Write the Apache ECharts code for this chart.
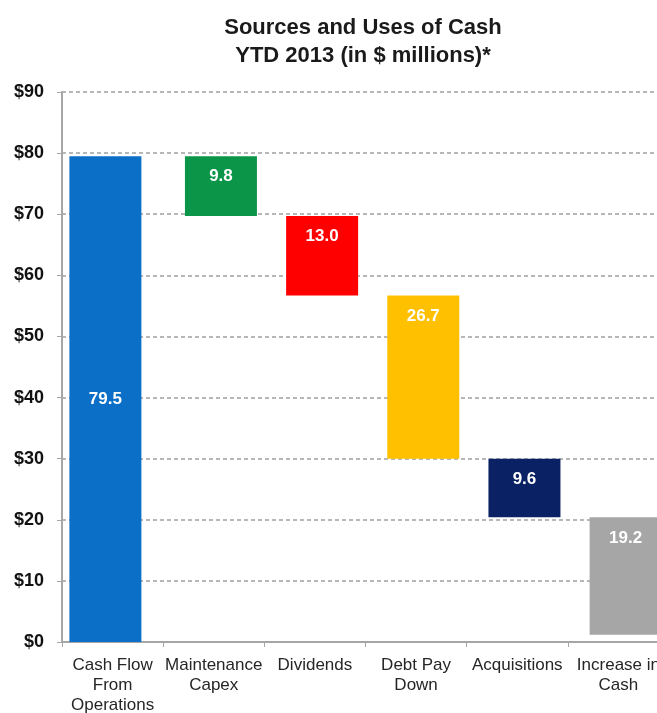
<!DOCTYPE html>
<html>
<head>
<meta charset="utf-8">
<script src="https://cdn.jsdelivr.net/npm/echarts@6/dist/echarts.min.js"></script>
<style>
  html, body { margin: 0; padding: 0; background: #ffffff; }
  #chart { width: 657px; height: 713px; }
</style>
</head>
<body>
<div id="chart"></div>
<script>
// Waterfall of cash sources and uses, YTD 2013 ($ millions)
const categories = ['Cash Flow\nFrom\nOperations', 'Maintenance\nCapex', 'Dividends', 'Debt Pay\nDown', 'Acquisitions', 'Increase in\nCash'];
const sourceValue = 79.5;                      // Cash Flow From Operations
const useValues = [9.8, 13.0, 26.7, 9.6, 19.2]; // remaining categories
const useColors = ['#0B9548', '#FF0000', '#FFC000', '#0A2164', '#A6A6A6'];
const yTicks = { min: 0, max: 90, step: 10 };

// Floating bars: each use hangs down from the running level left by the previous one
const baseData = ['-'];
const useData = ['-'];
let level = sourceValue;
useValues.forEach(function (v, i) {
  level = +(level - v).toFixed(1);
  baseData.push(level);
  useData.push({ value: v, itemStyle: { color: useColors[i] } });
});
const sourceData = [sourceValue, '-', '-', '-', '-', '-'];

const chart = echarts.init(document.getElementById('chart'), null, { renderer: 'canvas' });
chart.setOption({
  backgroundColor: '#ffffff',
  animation: false,
  title: {
    text: 'Sources and Uses of Cash\nYTD 2013 (in $ millions)*',
    left: 358,
    textAlign: 'center',
    top: 9,
    textStyle: {
      fontFamily: 'Liberation Sans, Arial, sans-serif',
      fontSize: 22,
      fontWeight: 'bold',
      color: '#1a1a1a',
      lineHeight: 28
    }
  },
  // plot area runs past the right edge of the page, so the last column is cut off
  grid: { left: 62, width: 607, top: 92, bottom: 71, containLabel: false, outerBoundsMode: 'none' },
  xAxis: {
    type: 'category',
    data: categories,
    axisLine: { show: true, lineStyle: { color: '#A6A6A6', width: 2 } },
    axisTick: { show: true, length: 5, lineStyle: { color: '#A6A6A6', width: 1 } },
    axisLabel: {
      interval: 0,
      margin: 13,
      fontFamily: 'Liberation Sans, Arial, sans-serif',
      fontSize: 17,
      lineHeight: 20,
      color: '#262626'
    }
  },
  yAxis: {
    type: 'value',
    min: yTicks.min,
    max: yTicks.max,
    interval: yTicks.step,
    axisLine: { show: true, lineStyle: { color: '#A6A6A6', width: 2 } },
    axisTick: { show: true, length: 5, lineStyle: { color: '#A6A6A6', width: 1 } },
    splitLine: { show: true, lineStyle: { color: '#A0A0A0', width: 1.5, type: [4, 3] } },
    axisLabel: {
      margin: 18,
      formatter: '${value}',
      fontFamily: 'Liberation Sans, Arial, sans-serif',
      fontSize: 18,
      fontWeight: 'bold',
      color: '#111111'
    }
  },
  series: [
    {
      name: 'Source',
      type: 'bar',
      stack: 'source',
      barWidth: 72,
      barGap: '-80%',
      data: sourceData,
      itemStyle: { color: '#0B6FC7' },
      label: {
        show: true,
        position: 'inside',
        formatter: function (p) { return p.value.toFixed(1); },
        fontFamily: 'Liberation Sans, Arial, sans-serif',
        fontSize: 17,
        fontWeight: 'bold',
        color: '#ffffff'
      }
    },
    {
      name: 'Base',
      type: 'bar',
      stack: 'flow',
      barWidth: 72,
      barGap: '-80%',
      data: baseData,
      itemStyle: { color: 'transparent' },
      emphasis: { disabled: true },
      silent: true
    },
    {
      name: 'Uses',
      type: 'bar',
      stack: 'flow',
      barWidth: 72,
      barGap: '-80%',
      data: useData,
      label: {
        show: true,
        position: 'insideTop',
        distance: 12,
        formatter: function (p) { return Number(p.value).toFixed(1); },
        fontFamily: 'Liberation Sans, Arial, sans-serif',
        fontSize: 17,
        fontWeight: 'bold',
        color: '#ffffff'
      }
    }
  ]
});
</script>
</body>
</html>
